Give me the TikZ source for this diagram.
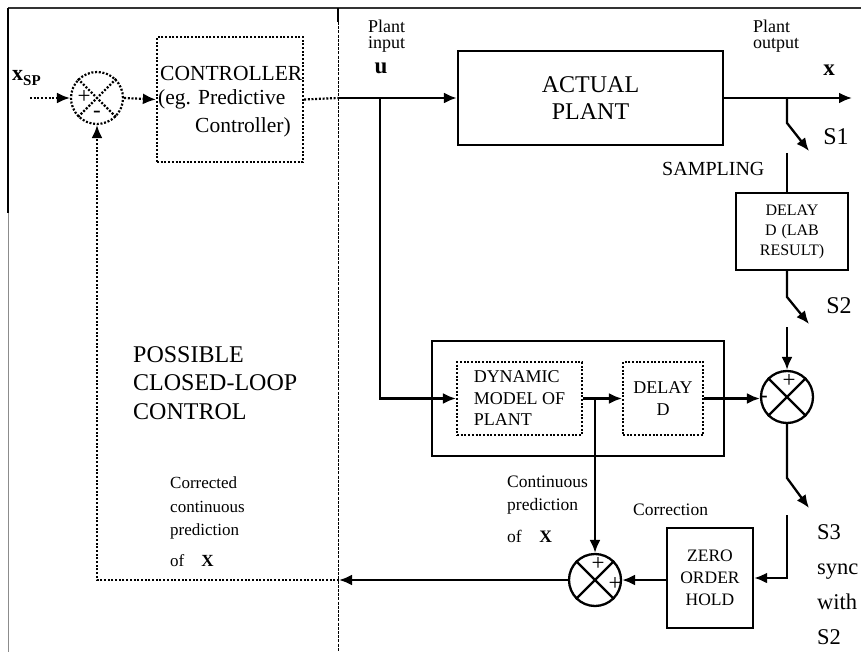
\documentclass[tikz,border=0pt]{standalone}
\usepackage{fontspec}
\setmainfont{Liberation Serif}
\usetikzlibrary{arrows.meta,calc}
\newcommand{\fsz}[2]{\fontsize{#1}{#2}\selectfont}
\begin{document}
\begin{tikzpicture}[x=1pt,y=-1pt,
  ln/.style={line width=2.3pt},
  dotl/.style={line width=2.2pt, dash pattern=on 2pt off 1.7pt},
  arr/.style={-{Latex[length=13pt,width=11pt]}},
  blk/.style={draw, line width=2.4pt, rectangle, inner sep=0pt},
  dblk/.style={draw, dotl, rectangle, inner sep=0pt},
  sumc/.style={draw, circle, line width=2.3pt, minimum size=52pt, inner sep=0pt},
  lbl/.style={inner sep=0pt, anchor=west, align=left},
  big/.style={font=\fsz{24}{28.5}},
  small/.style={font=\fsz{18}{16.5}},
  sgn/.style={inner sep=0pt, font=\fsz{23}{23}}
]
\useasboundingbox (0,0) rectangle (861,652);
% frame lines
\draw[line width=1.4pt, black!80] (8,8) -- (861,8);
\draw[line width=1.8pt] (8,8) -- (8,213);
\draw[line width=0.9pt, black!45] (8,213) -- (8,652);
\draw[line width=1.1pt] (338,8) -- (338,22);
\draw[line width=1pt, dash pattern=on 3pt off 1.2pt] (338,22) -- (338,652);

% blocks
\node[sumc, dotl] (sum1) at (97,98) {};
\draw[dotl] (sum1.north west) -- (sum1.south east) (sum1.north east) -- (sum1.south west);
\node[sgn] (s1p) at (84,97) {+};
\node[sgn] (s1m) at (97,114) {-};

\node[dblk, minimum width=146pt, minimum height=125pt] (ctrl) at (230,99.5) {};
\node[lbl, font=\fsz{21.5}{21.5}] (c1) at (160,73) {CONTROLLER};
\node[lbl, font=\fsz{21.5}{21.5}] (c2) at (158,99) {(eg. Predictive};
\node[lbl, font=\fsz{21.5}{21.5}] (c3) at (195,127) {Controller)};

\node[blk, minimum width=265pt, minimum height=94pt, align=center, font=\fsz{24}{27}] (plant) at (590.5,98) {ACTUAL\\PLANT};

\node[blk, minimum width=112pt, minimum height=77pt, align=center, font=\fsz{16}{20}] (labd) at (792,231.5) {DELAY\\D\hspace{0.3em}(LAB\\RESULT)};

\node[blk, minimum width=292pt, minimum height=115pt] (model) at (578,398.5) {};
\node[dblk, minimum width=125pt, minimum height=73pt, align=left, font=\fsz{18}{21.5}] (dyn) at (519.5,398.5) {DYNAMIC\\MODEL OF\\PLANT};
\node[dblk, minimum width=80pt, minimum height=73pt, align=center, font=\fsz{18}{22}] (dly) at (663,398.5) {DELAY\\D};

\node[sumc] (sum2) at (787,397) {};
\draw[ln] (sum2.north west) -- (sum2.south east) (sum2.north east) -- (sum2.south west);
\node[sgn] (s2p) at (789,381) {+};
\node[sgn] (s2m) at (764,399) {-};

\node[blk, minimum width=86pt, minimum height=100pt, align=center, font=\fsz{17.5}{22}] (zoh) at (710,578) {ZERO\\ORDER\\HOLD};

\node[sumc] (sum3) at (595,580) {};
\draw[ln] (sum3.north west) -- (sum3.south east) (sum3.north east) -- (sum3.south west);
\node[sgn] (s3a) at (598,564) {+};
\node[sgn] (s3b) at (615,584) {+};

% labels
\node[lbl, font=\bfseries\fsz{22}{22}] (xsp) at (12,78) {x\raisebox{-5pt}{\fsz{15}{15}SP}};
\node[lbl, small] (pin) at (368,36) {Plant\\input};
\node[inner sep=0pt, font=\bfseries\fsz{23}{23}] (u) at (381,68) {u};
\node[lbl, small] (pout) at (753,36) {Plant\\output};
\node[inner sep=0pt, font=\bfseries\fsz{23}{23}] (xo) at (829,70) {x};
\node[inner sep=0pt, big] (S1) at (836,137) {S1};
\node[lbl, font=\fsz{20}{20}] (samp) at (662,169) {SAMPLING};
\node[inner sep=0pt, big] (S2) at (839,306) {S2};
\node[lbl, big] (poss) at (133,383) {POSSIBLE\\CLOSED-LOOP\\CONTROL};
\node[lbl, font=\fsz{17}{23.5}] (corr) at (170,522) {Corrected\\continuous\\prediction\\[7.5pt]of\quad\textbf{X}};
\node[lbl, font=\fsz{17.5}{23}] (cont) at (507,509.5) {Continuous\\prediction\\[9pt]of\quad\textbf{X}};
\node[lbl, font=\fsz{17.5}{17.5}] (corrn) at (633,510) {Correction};
\node[lbl, font=\fsz{22.5}{35}] (S3) at (817,584.5) {S3\\sync\\with\\S2};

% coordinates
\coordinate (xin) at (30,98);
\coordinate (uj) at (338,98);
\coordinate (ub) at (380,98);
\coordinate (xout) at (852,98);
\coordinate (s1b) at (787,98);
\coordinate (s1c) at (787,123);
\coordinate (s1t) at (809,151);
\coordinate (s1d) at (787,153);
\coordinate (s2c) at (787,297);
\coordinate (s2t) at (809,324);
\coordinate (s2d) at (787,327);
\coordinate (s3c) at (787,478);
\coordinate (s3t) at (809,508);
\coordinate (s3d) at (787,515);
\coordinate (s3e) at (787,578);
\coordinate (pb) at (595,398.5);
\coordinate (fb) at (339,580);

% connectors
\draw[dotl, arr] (xin) -- (sum1.west);
\draw[dotl, arr] (sum1.east) -- (ctrl.west);
\draw[dotl] (ctrl.east) -- (uj);
\draw[ln, arr] (uj) -- (plant.west);
\draw[ln, arr] (ub) |- (dyn.west);
\draw[ln, arr] (plant.east) -- (xout);
\draw[ln, arr] (s1b) -- (s1c) -- (s1t);
\draw[ln] (s1d) -- (labd.north -| s1d);
\draw[ln, arr] (labd.south -| s2c) -- (s2c) -- (s2t);
\draw[ln, arr] (s2d) -- (sum2.north);
\draw[ln, arr] (dyn.east) -- (dly.west);
\draw[ln, arr] (dly.east) -- (dly.east -| sum2.west);
\draw[ln, arr] (sum2.south) -- (s3c) -- (s3t);
\draw[ln, arr] (s3d) -- (s3e) -- (zoh.east |- s3e);
\draw[ln, arr] (zoh.west |- sum3.east) -- (sum3.east);
\draw[ln, arr] (pb) -- (sum3.north);
\draw[ln, arr] (sum3.west) -- (fb);
\draw[dotl, arr] (fb) -| (sum1.south);
\end{tikzpicture}
\end{document}
